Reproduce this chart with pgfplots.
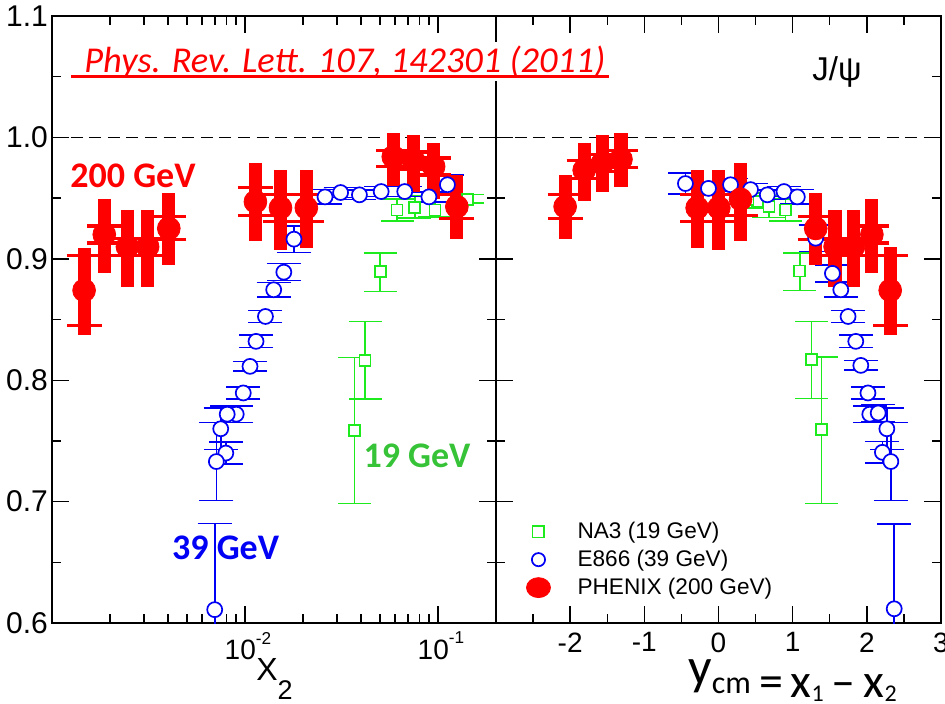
\documentclass[border=0pt]{standalone}
\usepackage{fontspec}
\setmainfont{Liberation Sans}
\newfontfamily\carl{Carlito}
\usepackage{pgfplots}
\pgfplotsset{compat=1.18}
\usepackage{pgfplotstable}

\definecolor{pred}{RGB}{255,0,0}
\definecolor{pblue}{RGB}{0,0,245}
\definecolor{pgreen}{RGB}{30,235,30}
\definecolor{tgreen}{RGB}{55,195,55}

% PHENIX 200 GeV: x, y, stat+, stat-, sys+, sys-
\pgfplotstableread{
x y sp sm yp ym
0.001467 0.874 0.035 0.037 0.029 0.029
0.001866 0.920 0.029 0.032 0.007 0.007
0.00246 0.910 0.030 0.033 0.007 0.007
0.00313 0.910 0.030 0.033 0.007 0.007
0.00403 0.925 0.029 0.030 0.010 0.009
0.01133 0.947 0.032 0.032 0.012 0.011
0.01528 0.942 0.031 0.035 0.011 0.011
0.0208 0.942 0.031 0.033 0.011 0.011
0.0587 0.984 0.020 0.024 0.005 0.008
0.0747 0.981 0.021 0.026 0.007 0.007
0.0950 0.976 0.019 0.027 0.007 0.007
0.1253 0.943 0.026 0.027 0.010 0.010
}\redL
\pgfplotstableread{
x y sp sm yp ym
-2.068 0.943 0.026 0.027 0.010 0.010
-1.811 0.973 0.022 0.025 0.008 0.007
-1.563 0.979 0.023 0.024 0.007 0.007
-1.315 0.982 0.022 0.023 0.007 0.0065
-0.288 0.942 0.031 0.033 0.011 0.011
0.004 0.942 0.031 0.035 0.011 0.011
0.297 0.949 0.030 0.034 0.010 0.013
1.311 0.925 0.029 0.030 0.010 0.009
1.572 0.910 0.030 0.033 0.007 0.007
1.820 0.910 0.030 0.033 0.007 0.007
2.068 0.920 0.029 0.032 0.007 0.007
2.315 0.874 0.036 0.037 0.029 0.029
}\redR
% E866 39 GeV: x, y, err
\pgfplotstableread{
x y e
0.1120 0.961 0.008
0.0898 0.951 0.004
0.0673 0.9554 0.004
0.0508 0.9554 0.004
0.0392 0.9527 0.004
0.0313 0.9546 0.004
0.0260 0.951 0.006
0.01795 0.9162 0.011
0.01590 0.889 0.007
0.01409 0.8745 0.006
0.01277 0.8525 0.005
0.01141 0.832 0.005
0.01062 0.8114 0.004
0.00980 0.7895 0.005
0.00901 0.772 0.007
0.00809 0.772 0.007
0.00749 0.760 0.017
0.00796 0.740 0.009
0.00711 0.733 0.032
0.00697 0.611 0.071
}\blueL
\pgfplotstableread{
x y e
-0.446 0.962 0.0085
-0.135 0.958 0.005
0.162 0.961 0.005
0.432 0.957 0.005
0.658 0.9527 0.004
0.883 0.9554 0.004
1.063 0.951 0.006
1.31 0.917 0.011
1.536 0.888 0.007
1.649 0.8745 0.006
1.747 0.8525 0.005
1.851 0.832 0.005
1.919 0.8122 0.004
2.015 0.7895 0.005
2.04 0.772 0.007
2.153 0.773 0.007
2.27 0.760 0.017
2.21 0.7406 0.009
2.324 0.733 0.032
2.369 0.6117 0.070
}\blueR
% NA3 19 GeV: x, y, err+, err-
\pgfplotstableread{
x y ep em
0.03687 0.7587 0.060 0.0603
0.04195 0.8163 0.032 0.032
0.05023 0.8896 0.0154 0.0166
0.06138 0.9403 0.009 0.009
0.07586 0.9425 0.009 0.009
0.0965 0.9403 0.007 0.006
0.1423 0.949 0.004 0.003
}\greenL
\pgfplotstableread{
x y ep em
1.388 0.7593 0.060 0.061
1.252 0.8169 0.0315 0.032
1.095 0.890 0.015 0.016
0.905 0.9403 0.009 0.009
0.68 0.943 0.009 0.009
0.52 0.947 0.005 0.005
0.40 0.949 0.005 0.005
}\greenR

\pgfplotsset{
  panel/.style={
    scale only axis, height=303.5pt,
    ymin=0.6, ymax=1.1,
    ytick={0.6,0.7,0.8,0.9,1.0,1.1},
    minor ytick={0.65,0.75,0.85,0.95,1.05},
    major tick length=8.5pt, minor tick length=4.5pt,
    tick align=inside,
    axis line style={line width=0.7pt},
    tick style={line width=0.7pt, black},
  },
  legimg/.style={legend image code/.code={%
      \path[draw=none, fill=none] (0cm,-5pt) rectangle (0.6cm,5pt);
      \draw[##1] plot coordinates {(0.3cm,0cm)};}},
  na3/.style={pgreen, only marks, mark=square*, mark size=2.75pt,
    mark options={fill=white, draw=pgreen, line width=0.8pt},
    error bars/.cd, y dir=both, y explicit,
    error bar style={pgreen, line width=0.8pt},
    error mark options={rotate=90, mark size=8.25pt, line width=0.8pt, pgreen}},
  e866/.style={pblue, only marks, mark=*, mark size=3.75pt,
    mark options={fill=white, draw=pblue, line width=0.85pt},
    error bars/.cd, y dir=both, y explicit,
    error bar style={pblue, line width=0.8pt},
    error mark options={rotate=90, mark size=8.5pt, line width=0.8pt, pblue}},
  phsys/.style={pred, only marks, mark=none,
    error bars/.cd, y dir=both, y explicit,
    error bar style={pred, line width=1.6pt},
    error mark options={rotate=90, mark size=8.75pt, line width=1.6pt, pred}},
  phstat/.style={pred, only marks, mark=*, mark size=5.7pt,
    mark options={fill=pred, draw=pred},
    error bars/.cd, y dir=both, y explicit, error mark=none,
    error bar style={pred, line width=6.6pt}},
}

\begin{document}
\begin{tikzpicture}
\begin{axis}[panel, name=L, at={(0pt,0pt)}, anchor=south west, width=222pt,
  xmode=log, xmin=0.001, xmax=0.2,
  xtick={0.001,0.01,0.1},
  xticklabels={{},{10\raisebox{7.8pt}{\fontsize{8.6}{8.6}\selectfont -2}},{10\raisebox{7.8pt}{\fontsize{8.6}{8.6}\selectfont -1}}},
  minor xtick={0.002,0.003,0.004,0.005,0.006,0.007,0.008,0.009,0.02,0.03,0.04,0.05,0.06,0.07,0.08,0.09,0.2},
  xticklabel style={font=\fontsize{14}{14}\selectfont, yshift=-1pt, xshift=1.5pt},
  yticklabels={0.6,0.7,0.8,0.9,1.0,1.1},
  yticklabel style={font=\fontsize{15}{15}\selectfont, xshift=1.5pt},
]
\addplot[forget plot, black, line width=0.65pt, dash pattern=on 6pt off 3.3pt] coordinates {(0.001,1) (0.2,1)};
\addplot[forget plot, na3] table[x=x, y=y, y error plus=ep, y error minus=em] {\greenL};
\addplot[forget plot, e866] table[x=x, y=y, y error=e] {\blueL};
\addplot[forget plot, phsys] table[x=x, y=y, y error plus=yp, y error minus=ym] {\redL};
\addplot[forget plot, phstat] table[x=x, y=y, y error plus=sp, y error minus=sm] {\redL};
\node[anchor=base west, inner sep=0pt, text=pred] at (axis cs:0.00124,0.9584) {\carl\bfseries\fontsize{18}{18}\selectfont 200 GeV};
\node[anchor=base west, inner sep=0pt, text=pblue] at (axis cs:0.004175,0.6523) {\carl\bfseries\fontsize{18}{18}\selectfont 39 GeV};
\node[anchor=base west, inner sep=0pt, text=tgreen] at (axis cs:0.04095,0.728) {\carl\bfseries\fontsize{18}{18}\selectfont 19 GeV};
\end{axis}

\begin{axis}[panel, name=R, at={(222pt,0pt)}, anchor=south west, width=222.5pt,
  xmin=-3, xmax=3,
  xtick={-3,-2,-1,0,1,2,3},
  xticklabels={{},-2,-1,0,1,2,3},
  minor xtick={-2.5,-1.5,-0.5,0.5,1.5,2.5},
  xticklabel style={font=\fontsize{14}{14}\selectfont, yshift=-1.3pt},
  yticklabels={},
  legend style={at={(rel axis cs:0,0)}, anchor=south west, xshift=12.5pt, yshift=10.65pt,
    draw=none, fill=none, inner xsep=0pt, inner ysep=0pt,
    font=\fontsize{11.3}{13}\selectfont, row sep=0.3pt, column sep=9pt,
    nodes={inner sep=2pt}},
  legend cell align=left,
]
\addplot[forget plot, black, line width=0.65pt, dash pattern=on 6pt off 3.3pt] coordinates {(-3,1) (3,1)};
\addplot[forget plot, na3] table[x=x, y=y, y error plus=ep, y error minus=em] {\greenR};
\addplot[forget plot, e866] table[x=x, y=y, y error=e] {\blueR};
\addplot[forget plot, phsys] table[x=x, y=y, y error plus=yp, y error minus=ym] {\redR};
\addplot[forget plot, phstat] table[x=x, y=y, y error plus=sp, y error minus=sm] {\redR};
\addlegendimage{legimg, only marks, mark=square*, mark size=2.9pt, mark options={fill=white, draw=pgreen, line width=0.8pt}}
\addlegendentry{NA3 (19 GeV)}
\addlegendimage{legimg, only marks, mark=*, mark size=3.3pt, mark options={fill=white, draw=pblue, line width=0.85pt}}
\addlegendentry{E866 (39 GeV)}
\addlegendimage{legimg, only marks, mark=*, mark size=5pt, mark options={fill=pred, draw=pred, xscale=1.2}}
\addlegendentry{PHENIX (200 GeV)}
\end{axis}

% J/psi
\node[anchor=base, inner sep=0pt] at ([xshift=170.5pt, yshift=-32pt]R.north west) {\fontsize{16.5}{16.5}\selectfont J/ψ};
% x2 label
\node[anchor=base west, inner sep=0pt] at ([xshift=102pt, yshift=-28.5pt]L.south west) {\fontsize{16}{16}\selectfont X\raisebox{-9.8pt}{\fontsize{13.5}{13.5}\selectfont 2}};
% ycm label
\node[anchor=base west, inner sep=0pt] at ([xshift=96pt, yshift=-37pt]R.south west) {\carl\fontsize{24}{24}\selectfont \raisebox{6.5pt}{\fontsize{26}{26}\selectfont y\raisebox{-4.5pt}{\fontsize{16}{16}\selectfont cm}}\,=\,x\raisebox{-2pt}{\fontsize{12}{12}\selectfont 1}\,–\,x\raisebox{-2pt}{\fontsize{12}{12}\selectfont 2}};
% reference title
\node[anchor=base west, inner sep=1.5pt, fill=white, text=pred] (title) at ([xshift=14.5pt, yshift=-28pt]L.north west) {\carl\itshape\fontsize{18.2}{18.2}\selectfont Phys. Rev. Lett. 107, 142301 (2011)};
\draw[pred, line width=1.5pt] ([xshift=-5pt, yshift=-2.2pt]title.base west) -- ([yshift=-2.2pt]title.base east);

\pgfresetboundingbox
\useasboundingbox (-26pt,-40pt) rectangle (446.5pt,311.5pt);
\end{tikzpicture}
\end{document}
